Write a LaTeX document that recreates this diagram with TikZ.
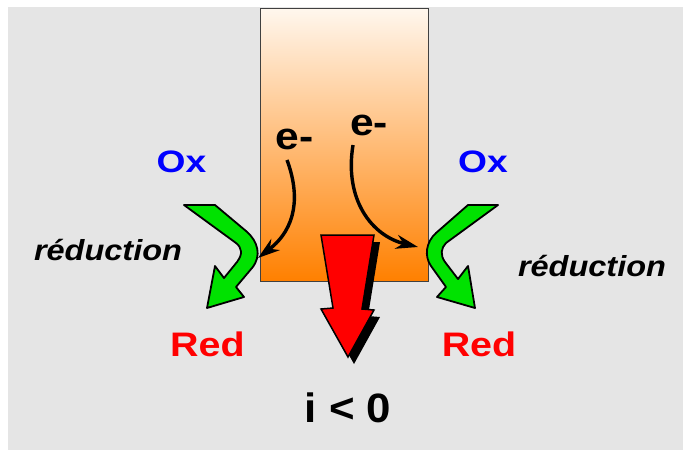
\documentclass[tikz,border=0pt]{standalone}
\usepackage{fontspec}
\setmainfont{Liberation Sans}
\usetikzlibrary{arrows.meta}
\definecolor{bggray}{RGB}{229,229,229}
\definecolor{elecTop}{RGB}{255,247,238}
\definecolor{elecBot}{RGB}{255,128,0}
\definecolor{arrowgreen}{RGB}{0,226,0}
\definecolor{oxblue}{RGB}{0,0,255}
\definecolor{redred}{RGB}{255,0,0}
\begin{document}
\begin{tikzpicture}[x=1pt,y=-1pt,
  lbl/.style={inner sep=0pt, anchor=base},
  eflow/.style={line width=3.4pt, -{Stealth[length=22pt,width=14pt,inset=7pt]}},
  greenarrow/.style={fill=arrowgreen, draw=black, line width=1.8pt, line join=round},
  bigarrow/.style={fill=redred, draw=black, line width=1.5pt, line join=miter}]
\useasboundingbox (0,0) rectangle (683,450);
\fill[white] (0,0) rectangle (683,450);
\fill[bggray] (8,7) rectangle (683,450);

% electrode
\shade[top color=elecTop, bottom color=elecBot] (260,8) rectangle (428,281);
\draw[draw=black!75, line width=0.8pt] (260,8) rectangle (428,281);
\coordinate (elecL) at (258,258);
\coordinate (elecR) at (418,247);

% labels
\node[lbl, text=oxblue, xscale=1.2, font=\fontsize{31}{36}\selectfont\bfseries] (ox1) at (181.5,172) {Ox};
\node[lbl, text=oxblue, xscale=1.2, font=\fontsize{31}{36}\selectfont\bfseries] (ox2) at (483,172) {Ox};
\node[lbl, text=redred, xscale=1.16, font=\fontsize{34}{40}\selectfont\bfseries] (red1) at (207.5,356) {Red};
\node[lbl, text=redred, xscale=1.16, font=\fontsize{34}{40}\selectfont\bfseries] (red2) at (479,356) {Red};
\node[lbl, xscale=1.12, font=\fontsize{29}{34}\selectfont\bfseries\itshape] (red1lbl) at (108,260) {réduction};
\node[lbl, xscale=1.12, font=\fontsize{29}{34}\selectfont\bfseries\itshape] (red2lbl) at (592,276) {réduction};
\node[lbl, xscale=1.12, font=\fontsize{38}{44}\selectfont\bfseries] (e1) at (294.5,149.5) {e-};
\node[lbl, xscale=1.12, font=\fontsize{38}{44}\selectfont\bfseries] (e2) at (369,135) {e-};
\node[lbl, xscale=1.07, font=\fontsize{41}{48}\selectfont\bfseries] (cur) at (348,422.5) {i < 0};

% electron arrows
\draw[eflow] (287,160) .. controls (300,195) and (297,228) .. (elecL);
\draw[eflow] (353,145) .. controls (344,200) and (372,236) .. (elecR);

% green reduction arrows
\path[greenarrow] (184,205) -- (215,205) -- (246,231)
  .. controls (258,241) and (262,256) .. (252,268) -- (236,287) -- (244,297)
  -- (207,308) -- (215,266) -- (224,278) -- (237,262)
  .. controls (243,254) and (242,248) .. (236,243) -- cycle;
\path[greenarrow] (498,205) -- (468,205) -- (436,233)
  .. controls (426,242) and (424,256) .. (431,266) -- (446,287) -- (437,297)
  -- (475,308) -- (468,266) -- (458,279) -- (445,262)
  .. controls (440,255) and (441,248) .. (446,243) -- cycle;

% current arrow with shadow
\fill[black, shift={(6,7)}] (321,235) -- (374,235) -- (362,309) -- (374,310) -- (348,357) -- (321,309) -- (333,308) -- cycle;
\path[bigarrow] (321,235) -- (374,235) -- (362,309) -- (374,310) -- (348,357) -- (321,309) -- (333,308) -- cycle;
\end{tikzpicture}
\end{document}
